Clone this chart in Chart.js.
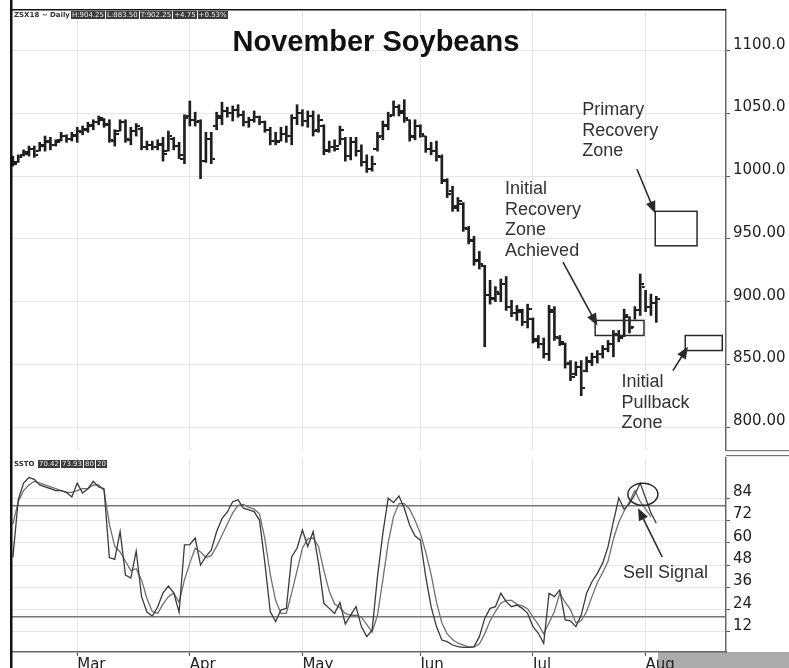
<!DOCTYPE html>
<html>
<head>
<meta charset="utf-8">
<script src="https://cdn.jsdelivr.net/npm/chart.js@4.4.1/dist/chart.umd.min.js"></script>
<style>
  body { margin: 0; background: #fff; width: 789px; height: 668px; overflow: hidden; position: relative; }
  canvas { position: absolute; left: 0; }
  #top { top: 0; }
  #bot { top: 455px; }
  #scroll { position: absolute; left: 658px; top: 652px; width: 131px; height: 16px; background: #ababab; }
  .hdr { position: absolute; font: bold 7px "DejaVu Sans", sans-serif; color: #333; white-space: nowrap; line-height: 7px; }
  .hdr span { background: #3b3b3b; color: #eee; padding: 0 1px; margin-left: 1px; font-weight: normal; }
</style>
</head>
<body>
<div id="scroll"></div>
<canvas id="top" width="789" height="455"></canvas>
<canvas id="bot" width="789" height="213"></canvas>
<div class="hdr" style="left:14px;top:12px">ZSX18 ~ Daily<span>H:904.25</span><span>L:883.50</span><span>T:902.25</span><span>+4.75</span><span>+0.53%</span></div>
<div class="hdr" style="left:14px;top:461px">SSTO <span>70.42</span><span>73.93</span><span>80</span><span>20</span></div>
<script>
// daily bars, Feb 12 .. Aug 3 (index = trading day)
const highs = [1016,1017,1021,1024,1024,1027,1032,1031,1029,1035,1033,1035,1039,1040,1043,1045,1048,1046,1045,1037,
  1045,1045,1039,1042,1039,1028,1028,1029,1031,1036,1031,1027,1049,1060,1051,1045,1035,1035,1051,1059,
  1055,1056,1057,1052,1047,1052,1048,1044,1039,1035,1039,1040,1049,1057,1053,1052,1052,1049,1041,1028,
  1029,1040,1031,1031,1031,1025,1017,1016,1035,1044,1051,1060,1057,1061,1045,1045,1041,1032,1027,1028,
  1017,998,992,983,979,960,952,940,929,917,912,918,920,901,897,894,898,887,873,871,
  897,896,873,867,853,852,853,856,859,861,865,869,877,877,894,888,896,922,909,906,904.25];
const lows = [1008,1011,1016,1016,1015,1020,1020,1021,1024,1028,1027,1028,1027,1033,1035,1037,1041,1039,1027,1024,
  1036,1027,1025,1032,1021,1021,1021,1021,1012,1020,1021,1014,1010,1040,1040,998,1011,1010,1037,1041,
  1047,1044,1047,1040,1039,1043,1041,1035,1025,1025,1028,1027,1025,1041,1040,1039,1032,1035,1017,1019,
  1020,1025,1012,1013,1016,1008,1003,1004,1020,1029,1037,1048,1048,1043,1028,1029,1031,1019,1017,1012,
  994,983,972,972,956,946,929,926,864,898,900,900,893,888,885,881,879,867,863,855,
  853,869,865,847,837,841,825,844,849,851,855,860,856,868,872,875,886,889,892,889,883.5];
const opens = [1014,1011,1017,1018,1022,1020,1024,1027,1025,1029,1032,1030,1032,1035,1037,1040,1043,1045,1042,1028,
  1036,1043,1029,1036,1038,1023,1025,1023,1025,1020,1030,1024,1014,1048,1045,1044,1012,1030,1040,1046,
  1052,1050,1053,1049,1043,1045,1047,1043,1037,1028,1028,1034,1032,1046,1050,1044,1048,1037,1040,1021,
  1023,1024,1030,1016,1027,1020,1011,1006,1022,1032,1040,1049,1055,1052,1045,1032,1040,1032,1022,1020,
  1015,996,988,976,978,958,948,933,928,905,903,906,914,896,891,892,884,886,869,866,
  858,892,871,866,851,842,848,845,852,856,858,862,866,873,872,888,880,893,912,896,899];
const closes = [1010,1015,1019,1022,1017,1025,1028,1025,1027,1032,1030,1033,1036,1038,1041,1043,1046,1041,1029,1034,
  1043,1030,1036,1040,1023,1025,1023,1026,1018,1032,1024,1017,1046,1045,1043,1012,1030,1014,1048,1052,
  1050,1053,1049,1043,1045,1047,1043,1037,1028,1027,1034,1032,1046,1050,1044,1048,1036,1045,1020,1023,
  1022,1037,1016,1027,1020,1011,1006,1010,1031,1041,1048,1055,1050,1046,1031,1040,1034,1022,1020,1016,
  997,986,975,980,959,949,932,930,905,902,908,914,896,891,893,884,894,870,866,858,
  893,872,868,850,840,848,831,853,856,858,862,866,874,871,889,879,893,914,896,899,902.25];

// slow stochastic
const stoK = [52,83,92,95,94,91,90,89,88,88,87,84.6,92,86.7,89,93,90,89,52,51,
  66,42.6,41,55.5,31,22.7,20.6,25.4,33,36.7,33,22.7,58.8,59,62.5,48,52.6,56,66,73,
  76.5,82,83,78.5,77.6,76.7,72,49,23,17.6,23.8,24.7,52.5,57,66.8,58,66,49,27.4,24.7,
  22,27.8,16.3,21.1,25.6,14.9,9.5,13,41.7,65,83.9,81.5,85.1,78.5,69.5,63.6,61.5,41.7,25.6,14.9,
  7.7,6.8,5,4.1,3.7,3.7,4,9.5,19.3,24.7,25.6,32.8,28.3,25.6,26.5,24.7,22,14.9,11.3,5.9,
  32.8,31,34.6,18.5,18,14.9,21.1,32.8,39,43.5,49,57.9,71.3,84,78,81,86,92,84,76,70.42];
const stoD = [70,82,88,91,93,92,91,90,89,88,87,87,88,89,89,91,91,88,70,58,
  55,50,45,46,40,30,23,22,27,31,33,28,40,49,57,55,52,53,58,64,
  70,76,80,80.5,79,78,75.5,62,43,29,22,22,33,45,57,62,62.5,58,45,34,
  27,25,22,21,21,20,16,12,21,40,60,74,81,81,78,72,65,55,43,28,
  17,11,8,6,5,4,4,5.5,11,18,23,27.5,29,29,27,26,24.5,20,16,11,
  17,23,32.8,28,24,17,18,23,31,38.5,44,50,62,71,77,82,88,82,78,73.93];

const monthIdx = [12, 33, 54, 76, 97, 118];
const monthNames = ['Mar', 'Apr', 'May', 'Jun', 'Jul', 'Aug'];
const priceTicks = [800, 850, 900, 950, 1000, 1050, 1100];
const stoTicks = [12, 20, 24, 36, 48, 60, 72, 80, 84];
const stoLevels = [20, 80];

const axisFont = { family: 'DejaVu Sans', size: 15 };
const noteFont = '18px "Liberation Sans", Arial, sans-serif';
const xMin = -0.35, xMax = 133;

function tick(side) {
  const c = document.createElement('canvas');
  c.width = 8; c.height = 2;
  const g = c.getContext('2d');
  g.fillStyle = '#1e1e1e';
  g.fillRect(side < 0 ? 0 : 5, 0, 3, 2);
  return c;
}

function noPad(s) {
  s.paddingTop = 0; s.paddingBottom = 0; s.paddingLeft = 0; s.paddingRight = 0;
}

function arrow(ctx, x1, y1, x2, y2) {
  const a = Math.atan2(y2 - y1, x2 - x1);
  ctx.beginPath();
  ctx.moveTo(x1, y1);
  ctx.lineTo(x2 - 8 * Math.cos(a), y2 - 8 * Math.sin(a));
  ctx.stroke();
  ctx.beginPath();
  ctx.moveTo(x2, y2);
  ctx.lineTo(x2 - 12 * Math.cos(a) + 5 * Math.sin(a), y2 - 12 * Math.sin(a) - 5 * Math.cos(a));
  ctx.lineTo(x2 - 12 * Math.cos(a) - 5 * Math.sin(a), y2 - 12 * Math.sin(a) + 5 * Math.cos(a));
  ctx.closePath();
  ctx.fill();
}

// annotations in data units: [bar index, price]
const zones = [[119.8, 972, 127.6, 944.5], [108.6, 885, 117.7, 873], [125.4, 873, 132.3, 861]];
const arrows = [[116.4, 1005.5, 119.8, 970.5], [102.6, 931.5, 109, 881], [123.1, 845, 125.9, 864]];
const notes = [
  [106.2, ['Primary', 'Recovery', 'Zone'], 1052.5],
  [91.8, ['Initial', 'Recovery', 'Zone', 'Achieved'], 989.5],
  [113.5, ['Initial', 'Pullback', 'Zone'], 835.5]
];

const priceNotes = {
  id: 'priceNotes',
  afterDatasetsDraw(chart) {
    const ctx = chart.ctx, x = chart.scales.x, y = chart.scales.y, a = chart.chartArea;
    ctx.save();
    ctx.fillStyle = '#111';
    ctx.font = 'bold 29px "Liberation Sans", Arial, sans-serif';
    ctx.textAlign = 'center';
    ctx.textBaseline = 'middle';
    ctx.fillText('November Soybeans', 376, 43);
    ctx.strokeStyle = '#2a2a2a';
    ctx.fillStyle = '#2a2a2a';
    ctx.lineWidth = 1.5;
    zones.forEach(z => {
      const x1 = x.getPixelForValue(z[0]), y1 = y.getPixelForValue(z[1]);
      ctx.strokeRect(x1, y1, x.getPixelForValue(z[2]) - x1, y.getPixelForValue(z[3]) - y1);
    });
    ctx.lineWidth = 1.6;
    arrows.forEach(r => arrow(ctx, x.getPixelForValue(r[0]), y.getPixelForValue(r[1]), x.getPixelForValue(r[2]), y.getPixelForValue(r[3])));
    ctx.font = noteFont;
    ctx.textAlign = 'left';
    ctx.fillStyle = '#333';
    notes.forEach(n => {
      const px = x.getPixelForValue(n[0]), py = y.getPixelForValue(n[2]);
      n[1].forEach((t, k) => ctx.fillText(t, px, py + k * 20.5));
    });
    // frame
    ctx.fillStyle = '#111';
    ctx.fillRect(a.left - 1, 0, 2.5, chart.height);
    ctx.fillRect(a.left - 1, a.top - 1, a.right - a.left + 1, 1.5);
    ctx.fillStyle = '#777';
    ctx.fillRect(a.right, a.bottom, chart.width - a.right, 1.2);
    ctx.restore();
  }
};

const stoNotes = {
  id: 'stoNotes',
  afterDatasetsDraw(chart) {
    const ctx = chart.ctx, x = chart.scales.x, y = chart.scales.y, a = chart.chartArea;
    ctx.save();
    ctx.strokeStyle = '#2a2a2a';
    ctx.fillStyle = '#2a2a2a';
    ctx.lineWidth = 1.5;
    ctx.beginPath();
    ctx.ellipse(x.getPixelForValue(117.5), y.getPixelForValue(86), 15, 11, 0, 0, Math.PI * 2);
    ctx.stroke();
    ctx.lineWidth = 1.6;
    arrow(ctx, x.getPixelForValue(121.1), y.getPixelForValue(52.3), x.getPixelForValue(116.6), y.getPixelForValue(78.5));
    ctx.font = noteFont;
    ctx.fillStyle = '#333';
    ctx.textBaseline = 'middle';
    ctx.fillText('Sell Signal', x.getPixelForValue(113.8), y.getPixelForValue(43.7));
    ctx.fillStyle = '#111';
    ctx.fillRect(a.left - 1, 0, 2.5, chart.height);
    ctx.fillStyle = '#777';
    ctx.fillRect(a.right, 0, chart.width - a.right, 1.2);
    ctx.restore();
  }
};

const idx = highs.map((h, i) => i);

new Chart(document.getElementById('top'), {
  data: {
    datasets: [
      { type: 'bar', data: idx.map(i => ({ x: i, y: [lows[i], highs[i]] })), backgroundColor: '#1e1e1e', barThickness: 2 },
      { type: 'scatter', data: idx.map(i => ({ x: i, y: opens[i] })), pointStyle: tick(-1), pointRadius: 3 },
      { type: 'scatter', data: idx.map(i => ({ x: i, y: closes[i] })), pointStyle: tick(1), pointRadius: 3 }
    ]
  },
  options: {
    responsive: false,
    animation: false,
    layout: { padding: { left: 11, top: 10, right: 0, bottom: 3 } },
    plugins: { legend: { display: false }, tooltip: { enabled: false } },
    scales: {
      x: {
        type: 'linear', min: xMin, max: xMax, offset: false,
        afterBuildTicks: s => { s.ticks = monthIdx.map(v => ({ value: v })); },
        afterFit: s => { s.height = 0; noPad(s); },
        ticks: { display: false },
        grid: { color: '#e6e6e6', drawTicks: false, offset: false },
        border: { display: false }
      },
      y: {
        position: 'right', min: 781.7, max: 1132.5,
        afterBuildTicks: s => { s.ticks = priceTicks.map(v => ({ value: v })); },
        afterFit: s => { s.width = 63; noPad(s); },
        ticks: { font: axisFont, color: '#222', padding: 3, labelOffset: -6,
          callback: v => v >= 1000 ? v.toFixed(1) : v.toFixed(2) },
        grid: { color: '#e6e6e6', tickColor: '#555', tickLength: 4 },
        border: { color: '#666', width: 1.5 }
      }
    }
  },
  plugins: [priceNotes]
});

new Chart(document.getElementById('bot'), {
  type: 'line',
  data: {
    datasets: [
      { data: idx.map(i => ({ x: i, y: stoK[i] })), borderColor: '#3a3a3a', borderWidth: 1.3, pointRadius: 0 },
      { data: idx.map(i => ({ x: i, y: stoD[i] })), borderColor: '#707070', borderWidth: 1.3, pointRadius: 0 }
    ]
  },
  options: {
    responsive: false,
    animation: false,
    layout: { padding: { left: 11, top: 3, right: 0, bottom: 0 } },
    plugins: { legend: { display: false }, tooltip: { enabled: false } },
    scales: {
      x: {
        type: 'linear', min: xMin, max: xMax, offset: false,
        afterBuildTicks: s => { s.ticks = monthIdx.map(v => ({ value: v })); },
        afterFit: s => { s.height = 16; noPad(s); },
        ticks: { font: axisFont, color: '#222', align: 'start', padding: 0, autoSkip: false, maxRotation: 0,
          callback: v => monthNames[monthIdx.indexOf(v)] },
        grid: { color: '#e6e6e6', tickColor: '#555', tickLength: 4, offset: false },
        border: { color: '#666', width: 1.5 }
      },
      y: {
        position: 'right', min: 1.25, max: 105.5,
        afterBuildTicks: s => { s.ticks = stoTicks.map(v => ({ value: v })); },
        afterFit: s => { s.width = 63; noPad(s); },
        ticks: { font: axisFont, color: '#222', padding: 3, labelOffset: -6,
          callback: v => stoLevels.includes(v) ? '' : v },
        grid: {
          color: c => stoLevels.includes(c.tick.value) ? '#777' : '#e6e6e6',
          lineWidth: c => stoLevels.includes(c.tick.value) ? 1.4 : 1,
          tickColor: c => stoLevels.includes(c.tick.value) ? 'rgba(0,0,0,0)' : '#555',
          tickLength: 4
        },
        border: { color: '#666', width: 1.5 }
      }
    }
  },
  plugins: [stoNotes]
});
</script>
</body>
</html>
